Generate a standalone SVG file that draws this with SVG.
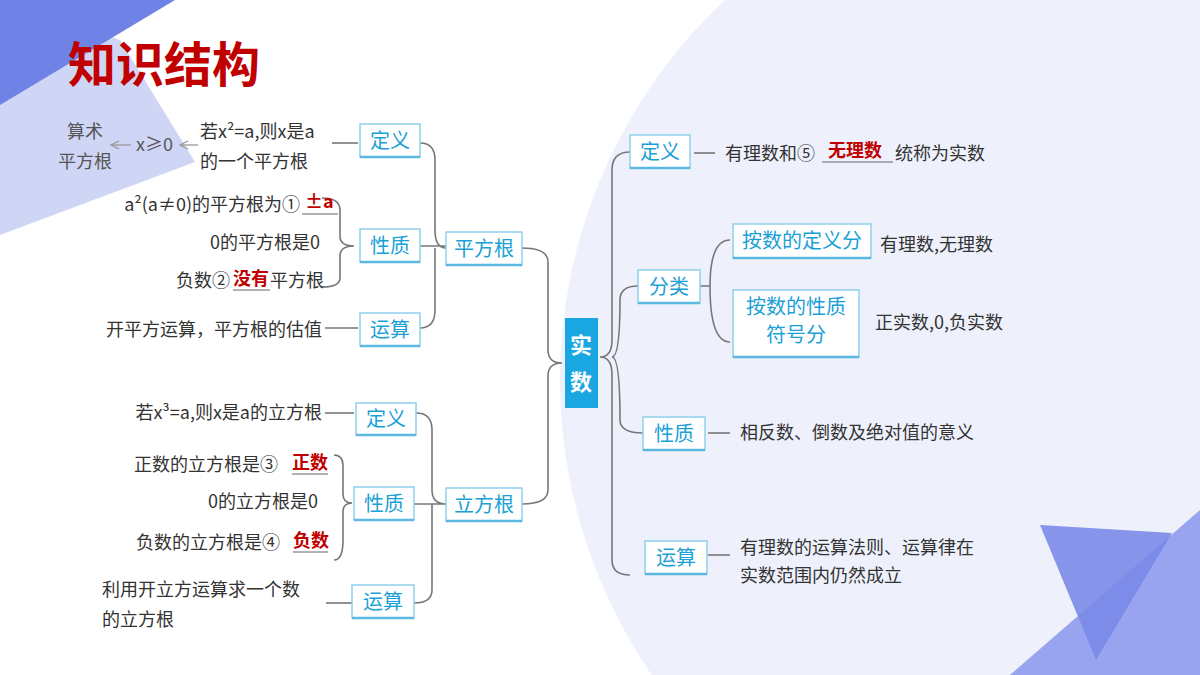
<svg xmlns="http://www.w3.org/2000/svg" width="1200" height="675" viewBox="0 0 1200 675">
<style>
text{font-family:"Noto Sans CJK SC","Noto Sans",sans-serif;}
.t{font-size:18px;fill:#333;}
.r{font-size:18px;fill:#c00000;font-weight:bold;}
.g{font-size:18px;fill:#555;}
.bx{fill:#fff;stroke:#8fd0ec;stroke-width:1.5;}
.bb{stroke:#5bb8e0;stroke-width:2.5;}
.lb{font-size:20px;fill:#1a9fd6;text-anchor:middle;}
.c{fill:none;stroke:#777;stroke-width:1.6;}
.u{stroke:#666;stroke-width:1.2;}
</style>
<defs><marker id="ar" markerWidth="10" markerHeight="10" refX="9" refY="5" orient="auto" markerUnits="userSpaceOnUse"><path d="M1,1 L9,5 L1,9" fill="none" stroke="#999" stroke-width="1.3"/></marker></defs>
<rect width="1200" height="675" fill="#fff"/>
<circle cx="1080" cy="380" r="520" fill="#eef1fc"/>
<polygon points="0,0 120,40 195,162 0,235" fill="#cfd5f5"/>
<polygon points="0,0 175,0 0,105" fill="#6f83e6"/>
<polygon points="1010,675 1200,510 1200,675" fill="#98a4f0"/>
<polygon points="1040,525 1172,533 1096,660" fill="#7a8ae8" opacity="0.9"/>
<text x="68" y="82" font-size="48" font-weight="bold" fill="#c00000">知识结构</text>

<g id="connectors">
<path class="c" d="M332,143 H358"/>
<path class="c" d="M420,143 Q435,143 435,160 V230 Q435,248 446,248 M435,248 Q435,266 435,280 V310 Q435,328 420,328 M420,246 H446"/>
<path class="c" d="M322,198 Q340,198 340,210 V236 Q340,246 354,246 Q340,246 340,256 V278 Q340,287 322,287"/>
<path class="c" d="M325,328 H358"/>
<path class="c" d="M325,413 H354"/>
<path class="c" d="M416,413 Q432,413 432,430 V490 Q432,504 446,504 M432,504 V590 Q432,603 414,603 M414,504 H446"/>
<path class="c" d="M334,455 Q343,455 343,466 V494 Q343,503 352,503 Q343,503 343,512 V540 Q343,560 334,560"/>
<path class="c" d="M326,603 H352"/>
<path class="c" d="M522,248 Q548,248 548,262 V350 Q548,363 562,363 Q548,363 548,376 V490 Q548,504 522,504"/>
<path class="c" d="M630,152 Q612,152 612,170 V340 Q612,357 600,357 Q612,357 612,375 V560 Q612,575 630,575 M612,357 Q620,357 620,300 Q620,286 638,286 M612,357 Q620,357 620,420 Q620,433 643,433"/>
<path class="c" d="M700,286 H710 M710,286 Q710,240 730,240 M710,286 Q710,342 730,342"/>
<path class="c" d="M694,153 H715"/>
<path class="c" d="M708,433 H730"/>
<path class="c" d="M708,555 H730"/>
<path d="M198,145 H180" fill="none" stroke="#999" stroke-width="1.3" marker-end="url(#ar)"/>
<path d="M131,145 H111" fill="none" stroke="#999" stroke-width="1.3" marker-end="url(#ar)"/>
</g>

<g id="n-sqrt-def"><rect class="bx" x="360" y="124" width="60" height="33"/><line class="bb" x1="360" y1="157" x2="420" y2="157"/><text class="lb" x="390" y="148">定义</text></g>
<g id="n-sqrt-prop"><rect class="bx" x="360" y="229" width="60" height="33"/><line class="bb" x1="360" y1="262" x2="420" y2="262"/><text class="lb" x="390" y="253">性质</text></g>
<g id="n-sqrt-op"><rect class="bx" x="360" y="313" width="60" height="33"/><line class="bb" x1="360" y1="346" x2="420" y2="346"/><text class="lb" x="390" y="337">运算</text></g>
<g id="n-sqrt"><rect class="bx" x="446" y="232" width="76" height="33"/><line class="bb" x1="446" y1="265" x2="522" y2="265"/><text class="lb" x="484" y="256">平方根</text></g>
<g id="n-cbrt-def"><rect class="bx" x="356" y="403" width="60" height="32"/><line class="bb" x1="356" y1="435" x2="416" y2="435"/><text class="lb" x="386" y="426">定义</text></g>
<g id="n-cbrt-prop"><rect class="bx" x="354" y="487" width="60" height="33"/><line class="bb" x1="354" y1="520" x2="414" y2="520"/><text class="lb" x="384" y="511">性质</text></g>
<g id="n-cbrt-op"><rect class="bx" x="352" y="585" width="62" height="33"/><line class="bb" x1="352" y1="618" x2="414" y2="618"/><text class="lb" x="383" y="609">运算</text></g>
<g id="n-cbrt"><rect class="bx" x="446" y="488" width="76" height="33"/><line class="bb" x1="446" y1="521" x2="522" y2="521"/><text class="lb" x="484" y="512">立方根</text></g>
<g id="n-real"><rect x="565" y="318" width="33" height="90" fill="#1aa6e0"/><text x="581" y="353" font-size="22" font-weight="bold" fill="#fff" text-anchor="middle">实</text><text x="581" y="390" font-size="22" font-weight="bold" fill="#fff" text-anchor="middle">数</text></g>
<g id="n-real-def"><rect class="bx" x="630" y="135" width="60" height="33"/><line class="bb" x1="630" y1="168" x2="690" y2="168"/><text class="lb" x="660" y="159">定义</text></g>
<g id="n-real-cls"><rect class="bx" x="638" y="270" width="62" height="33"/><line class="bb" x1="638" y1="303" x2="700" y2="303"/><text class="lb" x="669" y="294">分类</text></g>
<g id="n-cls1"><rect class="bx" x="733" y="224" width="138" height="34"/><line class="bb" x1="733" y1="258" x2="871" y2="258"/><text class="lb" x="802" y="248">按数的定义分</text></g>
<g id="n-cls2"><rect class="bx" x="733" y="290" width="126" height="67"/><line class="bb" x1="733" y1="357" x2="859" y2="357"/><text class="lb" x="796" y="314">按数的性质</text><text class="lb" x="796" y="342">符号分</text></g>
<g id="n-real-prop"><rect class="bx" x="643" y="417" width="62" height="33"/><line class="bb" x1="643" y1="450" x2="705" y2="450"/><text class="lb" x="674" y="441">性质</text></g>
<g id="n-real-op"><rect class="bx" x="645" y="541" width="62" height="33"/><line class="bb" x1="645" y1="574" x2="707" y2="574"/><text class="lb" x="676" y="565">运算</text></g>

<g id="texts">
<text class="g" x="85" y="138" text-anchor="middle">算术</text>
<text class="g" x="85" y="168" text-anchor="middle">平方根</text>
<text class="g" x="136" y="151">x≥0</text>
<text class="t" x="200" y="138">若x²=a,则x是a</text>
<text class="t" x="200" y="168">的一个平方根</text>
<text class="t" x="300" y="211" text-anchor="end" font-size="16">a²(a≠0)的平方根为①</text>
<text class="r" x="305" y="208">±a</text><line class="u" x1="302" y1="214" x2="338" y2="214"/>
<text class="t" x="320" y="249" text-anchor="end">0的平方根是0</text>
<text class="t" x="176" y="287">负数②</text><text class="r" x="233" y="285">没有</text><line class="u" x1="233" y1="290" x2="270" y2="290"/><text class="t" x="270" y="287">平方根</text>
<text class="t" x="322" y="336" text-anchor="end">开平方运算，平方根的估值</text>
<text class="t" x="322" y="419" text-anchor="end">若x³=a,则x是a的立方根</text>
<text class="t" x="134" y="471">正数的立方根是③</text><text class="r" x="292" y="469">正数</text><line class="u" x1="292" y1="474" x2="328" y2="474"/>
<text class="t" x="318" y="508" text-anchor="end">0的立方根是0</text>
<text class="t" x="136" y="549">负数的立方根是④</text><text class="r" x="293" y="547">负数</text><line class="u" x1="293" y1="552" x2="328" y2="552"/>
<text class="t" x="102" y="596">利用开立方运算求一个数</text>
<text class="t" x="102" y="626">的立方根</text>
<text class="t" x="725" y="160">有理数和⑤</text><text class="r" x="828" y="157">无理数</text><line class="u" x1="822" y1="162" x2="893" y2="162"/><text class="t" x="895" y="160">统称为实数</text>
<text class="t" x="880" y="251">有理数,无理数</text>
<text class="t" x="875" y="329">正实数,0,负实数</text>
<text class="t" x="740" y="439">相反数、倒数及绝对值的意义</text>
<text class="t" x="740" y="554">有理数的运算法则、运算律在</text>
<text class="t" x="740" y="582">实数范围内仍然成立</text>
</g>
</svg>
